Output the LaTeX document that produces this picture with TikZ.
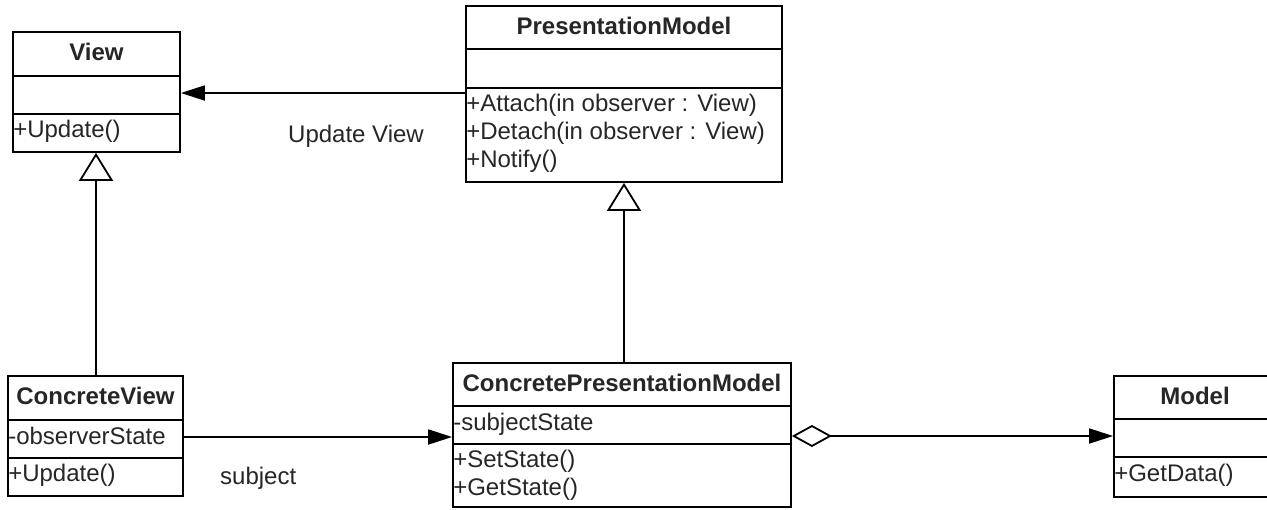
\documentclass[tikz,border=0pt]{standalone}
\usepackage{fontspec}
\setmainfont{Liberation Sans}
\usetikzlibrary{arrows.meta,calc}
\tikzset{
  cls/.style={draw, line width=1.8pt, inner sep=0pt, fill=white},
  sepline/.style={line width=1.8pt},
  hd/.style={anchor=base, inner sep=0pt, font=\fontsize{24}{28}\selectfont\bfseries, text=black!85},
  mem/.style={anchor=base west, inner sep=0pt, font=\fontsize{24}{28}\selectfont, text=black!85},
  lbl/.style={anchor=base west, inner sep=0pt, font=\fontsize{24}{28}\selectfont, text=black!85},
  assoc/.style={line width=1.8pt, -{Triangle[length=24pt,width=15pt]}},
  gen/.style={line width=1.8pt, -{Triangle[open,length=28pt,width=34pt,fill=white]}},
  aggr/.style={line width=1.8pt, {Diamond[open,length=40pt,width=22pt,fill=white]}-{Triangle[length=24pt,width=15pt]}}
}
\begin{document}
\begin{tikzpicture}[x=1pt,y=-1pt]
\useasboundingbox (0,0) rectangle (1267,509);
\clip (0,0) rectangle (1267,509);
\fill[white] (0,0) rectangle (1267,509);

% View
\node[cls, minimum width=167pt, minimum height=120pt] (view) at (96.5,92) {};
\draw[sepline] ($(view.north west)+(0,45)$) -- ($(view.north east)+(0,45)$);
\draw[sepline] ($(view.north west)+(0,83)$) -- ($(view.north east)+(0,83)$);
\node[hd] (viewname) at ($(view.north)+(0,29)$) {View};
\node[mem] (viewop) at ($(view.north west)+(1,106)$) {+Update()};

% PresentationModel
\node[cls, minimum width=316pt, minimum height=176pt] (pm) at (624,94) {};
\draw[sepline] ($(pm.north west)+(0,44)$) -- ($(pm.north east)+(0,44)$);
\draw[sepline] ($(pm.north west)+(0,83)$) -- ($(pm.north east)+(0,83)$);
\node[hd] (pmname) at ($(pm.north)+(0,29)$) {PresentationModel};
\node[mem] (pmop1) at ($(pm.north west)+(1,106)$) {+Attach(in observer : View)};
\node[mem] (pmop2) at ($(pm.north west)+(1,134)$) {+Detach(in observer : View)};
\node[mem] (pmop3) at ($(pm.north west)+(1,162)$) {+Notify()};

% ConcreteView
\node[cls, minimum width=175pt, minimum height=120pt] (cv) at (95.5,436) {};
\draw[sepline] ($(cv.north west)+(0,45)$) -- ($(cv.north east)+(0,45)$);
\draw[sepline] ($(cv.north west)+(0,83)$) -- ($(cv.north east)+(0,83)$);
\node[hd] (cvname) at ($(cv.north)+(0,29)$) {ConcreteView};
\node[mem] (cvattr) at ($(cv.north west)+(1,69)$) {-observerState};
\node[mem] (cvop) at ($(cv.north west)+(1,106)$) {+Update()};

% ConcretePresentationModel
\node[cls, minimum width=338pt, minimum height=144pt] (cpm) at (622,435) {};
\draw[sepline] ($(cpm.north west)+(0,44)$) -- ($(cpm.north east)+(0,44)$);
\draw[sepline] ($(cpm.north west)+(0,82)$) -- ($(cpm.north east)+(0,82)$);
\node[hd] (cpmname) at ($(cpm.north)+(0,29)$) {ConcretePresentationModel};
\node[mem] (cpmattr) at ($(cpm.north west)+(1,68)$) {-subjectState};
\node[mem] (cpmop1) at ($(cpm.north west)+(1,105)$) {+SetState()};
\node[mem] (cpmop2) at ($(cpm.north west)+(1,133)$) {+GetState()};

% Model
\node[cls, minimum width=162pt, minimum height=121pt] (model) at (1195,436.5) {};
\draw[sepline] ($(model.north west)+(0,44)$) -- ($(model.north east)+(0,44)$);
\draw[sepline] ($(model.north west)+(0,82)$) -- ($(model.north east)+(0,82)$);
\node[hd] (modelname) at ($(model.north)+(0,29)$) {Model};
\node[mem] (modelop) at ($(model.north west)+(1,106)$) {+GetData()};

% connectors
\coordinate (uvy) at (0,93);
\coordinate (subjy) at (0,437);
\coordinate (aggy) at (0,436);
\coordinate (genx) at (96,0);
\draw[assoc] (pm.west |- uvy) -- (view.east |- uvy);
\draw[assoc] (cv.east |- subjy) -- (cpm.west |- subjy);
\draw[aggr] (cpm.east |- aggy) -- (model.west |- aggy);
\draw[gen] (genx |- cv.north) -- (genx |- view.south);
\draw[gen] (pm.south |- cpm.north) -- (pm.south);

% labels
\node[lbl] (lupd) at (288,142) {Update View};
\node[lbl] (lsubj) at (220,484) {subject};
\end{tikzpicture}
\end{document}
